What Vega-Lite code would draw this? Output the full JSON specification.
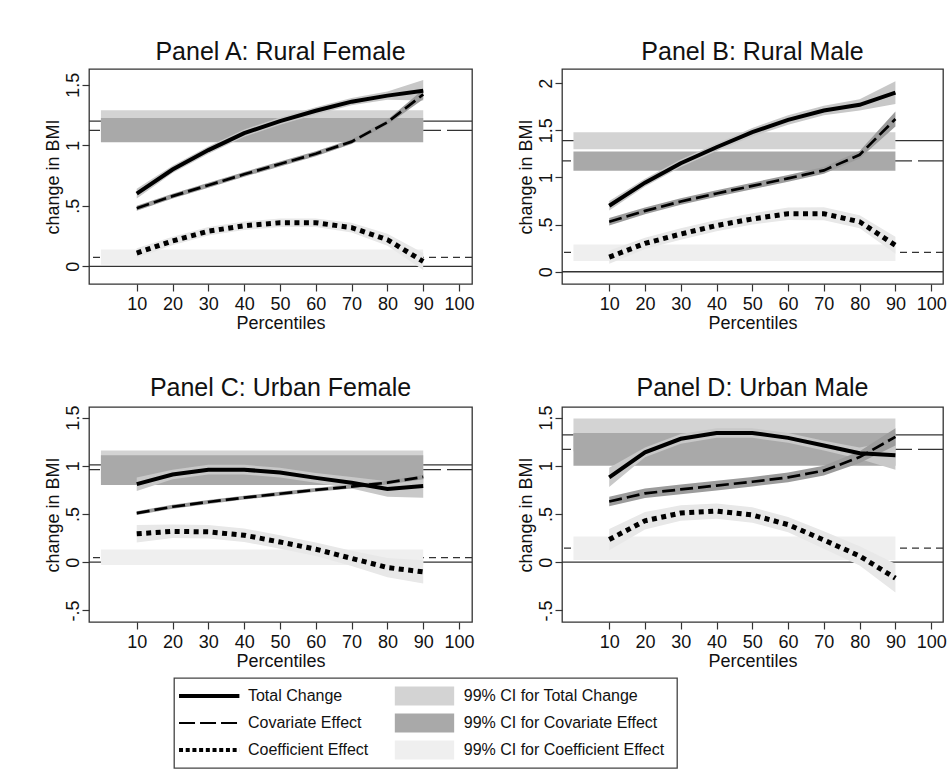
{
"$schema": "https://vega.github.io/schema/vega-lite/v6.json",
"padding": {"left": 43, "top": 38, "right": 0, "bottom": 0},
"background": "white",
"datasets": {
"means": [
{"panel":"A","measure":"Total Change","mean":1.20,"lo":1.11,"hi":1.29},
{"panel":"A","measure":"Covariate Effect","mean":1.123,"lo":1.025,"hi":1.225},
{"panel":"A","measure":"Coefficient Effect","mean":0.074,"lo":0.014,"hi":0.138},
{"panel":"B","measure":"Total Change","mean":1.39,"lo":1.30,"hi":1.48},
{"panel":"B","measure":"Covariate Effect","mean":1.175,"lo":1.07,"hi":1.275},
{"panel":"B","measure":"Coefficient Effect","mean":0.205,"lo":0.113,"hi":0.29},
{"panel":"C","measure":"Total Change","mean":1.01,"lo":0.86,"hi":1.16},
{"panel":"C","measure":"Covariate Effect","mean":0.96,"lo":0.80,"hi":1.11},
{"panel":"C","measure":"Coefficient Effect","mean":0.047,"lo":-0.03,"hi":0.133},
{"panel":"D","measure":"Total Change","mean":1.32,"lo":1.15,"hi":1.49},
{"panel":"D","measure":"Covariate Effect","mean":1.17,"lo":1.00,"hi":1.34},
{"panel":"D","measure":"Coefficient Effect","mean":0.146,"lo":0.024,"hi":0.267}
],
"curves": [
{"panel":"A","effect":"Total Change","pct":10,"est":0.60,"lo":0.56,"hi":0.64},
{"panel":"A","effect":"Total Change","pct":20,"est":0.80,"lo":0.77,"hi":0.83},
{"panel":"A","effect":"Total Change","pct":30,"est":0.96,"lo":0.93,"hi":0.99},
{"panel":"A","effect":"Total Change","pct":40,"est":1.10,"lo":1.07,"hi":1.13},
{"panel":"A","effect":"Total Change","pct":50,"est":1.20,"lo":1.17,"hi":1.23},
{"panel":"A","effect":"Total Change","pct":60,"est":1.285,"lo":1.255,"hi":1.315},
{"panel":"A","effect":"Total Change","pct":70,"est":1.36,"lo":1.33,"hi":1.39},
{"panel":"A","effect":"Total Change","pct":80,"est":1.41,"lo":1.375,"hi":1.445},
{"panel":"A","effect":"Total Change","pct":90,"est":1.45,"lo":1.37,"hi":1.54},
{"panel":"A","effect":"Covariate Effect","pct":10,"est":0.48,"lo":0.46,"hi":0.50},
{"panel":"A","effect":"Covariate Effect","pct":20,"est":0.58,"lo":0.56,"hi":0.60},
{"panel":"A","effect":"Covariate Effect","pct":30,"est":0.67,"lo":0.65,"hi":0.69},
{"panel":"A","effect":"Covariate Effect","pct":40,"est":0.76,"lo":0.74,"hi":0.78},
{"panel":"A","effect":"Covariate Effect","pct":50,"est":0.845,"lo":0.825,"hi":0.865},
{"panel":"A","effect":"Covariate Effect","pct":60,"est":0.93,"lo":0.91,"hi":0.95},
{"panel":"A","effect":"Covariate Effect","pct":70,"est":1.03,"lo":1.01,"hi":1.05},
{"panel":"A","effect":"Covariate Effect","pct":80,"est":1.19,"lo":1.17,"hi":1.21},
{"panel":"A","effect":"Covariate Effect","pct":90,"est":1.42,"lo":1.38,"hi":1.46},
{"panel":"A","effect":"Coefficient Effect","pct":10,"est":0.11,"lo":0.07,"hi":0.15},
{"panel":"A","effect":"Coefficient Effect","pct":20,"est":0.21,"lo":0.175,"hi":0.245},
{"panel":"A","effect":"Coefficient Effect","pct":30,"est":0.29,"lo":0.255,"hi":0.325},
{"panel":"A","effect":"Coefficient Effect","pct":40,"est":0.335,"lo":0.30,"hi":0.37},
{"panel":"A","effect":"Coefficient Effect","pct":50,"est":0.36,"lo":0.325,"hi":0.395},
{"panel":"A","effect":"Coefficient Effect","pct":60,"est":0.36,"lo":0.325,"hi":0.395},
{"panel":"A","effect":"Coefficient Effect","pct":70,"est":0.32,"lo":0.28,"hi":0.36},
{"panel":"A","effect":"Coefficient Effect","pct":80,"est":0.22,"lo":0.17,"hi":0.27},
{"panel":"A","effect":"Coefficient Effect","pct":90,"est":0.04,"lo":-0.03,"hi":0.11},
{"panel":"B","effect":"Total Change","pct":10,"est":0.70,"lo":0.65,"hi":0.75},
{"panel":"B","effect":"Total Change","pct":20,"est":0.945,"lo":0.905,"hi":0.985},
{"panel":"B","effect":"Total Change","pct":30,"est":1.15,"lo":1.11,"hi":1.19},
{"panel":"B","effect":"Total Change","pct":40,"est":1.32,"lo":1.28,"hi":1.36},
{"panel":"B","effect":"Total Change","pct":50,"est":1.48,"lo":1.435,"hi":1.525},
{"panel":"B","effect":"Total Change","pct":60,"est":1.61,"lo":1.56,"hi":1.66},
{"panel":"B","effect":"Total Change","pct":70,"est":1.71,"lo":1.66,"hi":1.76},
{"panel":"B","effect":"Total Change","pct":80,"est":1.77,"lo":1.71,"hi":1.83},
{"panel":"B","effect":"Total Change","pct":90,"est":1.90,"lo":1.78,"hi":2.02},
{"panel":"B","effect":"Covariate Effect","pct":10,"est":0.53,"lo":0.49,"hi":0.57},
{"panel":"B","effect":"Covariate Effect","pct":20,"est":0.645,"lo":0.61,"hi":0.68},
{"panel":"B","effect":"Covariate Effect","pct":30,"est":0.745,"lo":0.71,"hi":0.78},
{"panel":"B","effect":"Covariate Effect","pct":40,"est":0.83,"lo":0.795,"hi":0.865},
{"panel":"B","effect":"Covariate Effect","pct":50,"est":0.91,"lo":0.875,"hi":0.945},
{"panel":"B","effect":"Covariate Effect","pct":60,"est":0.99,"lo":0.955,"hi":1.025},
{"panel":"B","effect":"Covariate Effect","pct":70,"est":1.075,"lo":1.04,"hi":1.11},
{"panel":"B","effect":"Covariate Effect","pct":80,"est":1.24,"lo":1.20,"hi":1.28},
{"panel":"B","effect":"Covariate Effect","pct":90,"est":1.62,"lo":1.54,"hi":1.70},
{"panel":"B","effect":"Coefficient Effect","pct":10,"est":0.155,"lo":0.085,"hi":0.225},
{"panel":"B","effect":"Coefficient Effect","pct":20,"est":0.30,"lo":0.24,"hi":0.36},
{"panel":"B","effect":"Coefficient Effect","pct":30,"est":0.40,"lo":0.34,"hi":0.46},
{"panel":"B","effect":"Coefficient Effect","pct":40,"est":0.49,"lo":0.43,"hi":0.55},
{"panel":"B","effect":"Coefficient Effect","pct":50,"est":0.56,"lo":0.50,"hi":0.62},
{"panel":"B","effect":"Coefficient Effect","pct":60,"est":0.615,"lo":0.55,"hi":0.68},
{"panel":"B","effect":"Coefficient Effect","pct":70,"est":0.615,"lo":0.545,"hi":0.685},
{"panel":"B","effect":"Coefficient Effect","pct":80,"est":0.53,"lo":0.46,"hi":0.60},
{"panel":"B","effect":"Coefficient Effect","pct":90,"est":0.28,"lo":0.19,"hi":0.37},
{"panel":"C","effect":"Total Change","pct":10,"est":0.81,"lo":0.74,"hi":0.88},
{"panel":"C","effect":"Total Change","pct":20,"est":0.91,"lo":0.86,"hi":0.96},
{"panel":"C","effect":"Total Change","pct":30,"est":0.96,"lo":0.91,"hi":1.01},
{"panel":"C","effect":"Total Change","pct":40,"est":0.96,"lo":0.91,"hi":1.01},
{"panel":"C","effect":"Total Change","pct":50,"est":0.93,"lo":0.88,"hi":0.98},
{"panel":"C","effect":"Total Change","pct":60,"est":0.875,"lo":0.825,"hi":0.925},
{"panel":"C","effect":"Total Change","pct":70,"est":0.825,"lo":0.765,"hi":0.885},
{"panel":"C","effect":"Total Change","pct":80,"est":0.76,"lo":0.68,"hi":0.84},
{"panel":"C","effect":"Total Change","pct":90,"est":0.79,"lo":0.67,"hi":0.91},
{"panel":"C","effect":"Covariate Effect","pct":10,"est":0.51,"lo":0.49,"hi":0.53},
{"panel":"C","effect":"Covariate Effect","pct":20,"est":0.575,"lo":0.555,"hi":0.595},
{"panel":"C","effect":"Covariate Effect","pct":30,"est":0.625,"lo":0.605,"hi":0.645},
{"panel":"C","effect":"Covariate Effect","pct":40,"est":0.67,"lo":0.65,"hi":0.69},
{"panel":"C","effect":"Covariate Effect","pct":50,"est":0.71,"lo":0.69,"hi":0.73},
{"panel":"C","effect":"Covariate Effect","pct":60,"est":0.75,"lo":0.73,"hi":0.77},
{"panel":"C","effect":"Covariate Effect","pct":70,"est":0.785,"lo":0.765,"hi":0.805},
{"panel":"C","effect":"Covariate Effect","pct":80,"est":0.825,"lo":0.805,"hi":0.845},
{"panel":"C","effect":"Covariate Effect","pct":90,"est":0.885,"lo":0.86,"hi":0.91},
{"panel":"C","effect":"Coefficient Effect","pct":10,"est":0.295,"lo":0.205,"hi":0.385},
{"panel":"C","effect":"Coefficient Effect","pct":20,"est":0.32,"lo":0.25,"hi":0.39},
{"panel":"C","effect":"Coefficient Effect","pct":30,"est":0.315,"lo":0.245,"hi":0.385},
{"panel":"C","effect":"Coefficient Effect","pct":40,"est":0.28,"lo":0.21,"hi":0.35},
{"panel":"C","effect":"Coefficient Effect","pct":50,"est":0.21,"lo":0.14,"hi":0.28},
{"panel":"C","effect":"Coefficient Effect","pct":60,"est":0.135,"lo":0.065,"hi":0.205},
{"panel":"C","effect":"Coefficient Effect","pct":70,"est":0.04,"lo":-0.04,"hi":0.12},
{"panel":"C","effect":"Coefficient Effect","pct":80,"est":-0.055,"lo":-0.155,"hi":0.045},
{"panel":"C","effect":"Coefficient Effect","pct":90,"est":-0.10,"lo":-0.22,"hi":0.02},
{"panel":"D","effect":"Total Change","pct":10,"est":0.88,"lo":0.78,"hi":0.98},
{"panel":"D","effect":"Total Change","pct":20,"est":1.14,"lo":1.09,"hi":1.19},
{"panel":"D","effect":"Total Change","pct":30,"est":1.28,"lo":1.23,"hi":1.33},
{"panel":"D","effect":"Total Change","pct":40,"est":1.34,"lo":1.29,"hi":1.39},
{"panel":"D","effect":"Total Change","pct":50,"est":1.34,"lo":1.29,"hi":1.39},
{"panel":"D","effect":"Total Change","pct":60,"est":1.29,"lo":1.24,"hi":1.34},
{"panel":"D","effect":"Total Change","pct":70,"est":1.21,"lo":1.16,"hi":1.26},
{"panel":"D","effect":"Total Change","pct":80,"est":1.13,"lo":1.07,"hi":1.19},
{"panel":"D","effect":"Total Change","pct":90,"est":1.11,"lo":0.96,"hi":1.26},
{"panel":"D","effect":"Covariate Effect","pct":10,"est":0.63,"lo":0.58,"hi":0.68},
{"panel":"D","effect":"Covariate Effect","pct":20,"est":0.715,"lo":0.665,"hi":0.765},
{"panel":"D","effect":"Covariate Effect","pct":30,"est":0.755,"lo":0.705,"hi":0.805},
{"panel":"D","effect":"Covariate Effect","pct":40,"est":0.795,"lo":0.745,"hi":0.845},
{"panel":"D","effect":"Covariate Effect","pct":50,"est":0.835,"lo":0.785,"hi":0.885},
{"panel":"D","effect":"Covariate Effect","pct":60,"est":0.88,"lo":0.83,"hi":0.93},
{"panel":"D","effect":"Covariate Effect","pct":70,"est":0.95,"lo":0.90,"hi":1.00},
{"panel":"D","effect":"Covariate Effect","pct":80,"est":1.09,"lo":1.03,"hi":1.15},
{"panel":"D","effect":"Covariate Effect","pct":90,"est":1.30,"lo":1.21,"hi":1.39},
{"panel":"D","effect":"Coefficient Effect","pct":10,"est":0.235,"lo":0.125,"hi":0.345},
{"panel":"D","effect":"Coefficient Effect","pct":20,"est":0.43,"lo":0.34,"hi":0.52},
{"panel":"D","effect":"Coefficient Effect","pct":30,"est":0.51,"lo":0.43,"hi":0.59},
{"panel":"D","effect":"Coefficient Effect","pct":40,"est":0.53,"lo":0.45,"hi":0.61},
{"panel":"D","effect":"Coefficient Effect","pct":50,"est":0.49,"lo":0.41,"hi":0.57},
{"panel":"D","effect":"Coefficient Effect","pct":60,"est":0.39,"lo":0.31,"hi":0.47},
{"panel":"D","effect":"Coefficient Effect","pct":70,"est":0.23,"lo":0.14,"hi":0.32},
{"panel":"D","effect":"Coefficient Effect","pct":80,"est":0.065,"lo":-0.035,"hi":0.165},
{"panel":"D","effect":"Coefficient Effect","pct":90,"est":-0.165,"lo":-0.315,"hi":-0.015}
],
"legend": [
{"row":1,"item":"Total Change","measure":"Total Change","ci":"99% CI for Total Change"},
{"row":2,"item":"Covariate Effect","measure":"Covariate Effect","ci":"99% CI for Covariate Effect"},
{"row":3,"item":"Coefficient Effect","measure":"Coefficient Effect","ci":"99% CI for Coefficient Effect"}
]
},
"vconcat": [
{"spacing": 41, "vconcat": [
{"spacing": 41, "hconcat": [
{"width": 383, "height": 215, "title": {"text": "Panel A: Rural Female"},
"layer": [
{"data": {"values": [{}]}, "mark": {"type": "rule", "color": "#333333", "strokeWidth": 1.3}, "encoding": {"y": {"datum": 0, "type": "quantitative", "title": "change in BMI", "scale": {"domain": [-0.146, 1.63], "nice": false, "zero": false}, "axis": {"values": [0, 0.5, 1, 1.5], "labelExpr": "datum.value == 0.5 ? '.5' : datum.value == -0.5 ? '-.5' : format(datum.value, '~g')"}}}},
{"data": {"name": "means"}, "transform": [{"filter": "datum.panel == 'A' && datum.measure == 'Total Change'"}], "mark": {"type": "rule", "color": "#333333", "strokeWidth": 1.3}, "encoding": {"y": {"field": "mean", "type": "quantitative", "title": "change in BMI"}}},
{"data": {"name": "means"}, "transform": [{"filter": "datum.panel == 'A' && datum.measure == 'Covariate Effect'"}], "mark": {"type": "rule", "color": "#333333", "strokeWidth": 1.3, "strokeDash": [25, 6]}, "encoding": {"y": {"field": "mean", "type": "quantitative", "title": "change in BMI"}}},
{"data": {"name": "means"}, "transform": [{"filter": "datum.panel == 'A' && datum.measure == 'Coefficient Effect'"}], "mark": {"type": "rule", "color": "#333333", "strokeWidth": 1.3, "strokeDash": [7, 5]}, "encoding": {"y": {"field": "mean", "type": "quantitative", "title": "change in BMI"}}},
{"data": {"name": "means"}, "transform": [{"filter": "datum.panel == 'A'"}], "mark": {"type": "rect"}, "encoding": {"x": {"datum": 0, "type": "quantitative", "title": "Percentiles", "scale": {"domain": [-3.33, 103.62], "nice": false, "zero": false}, "axis": {"values": [10, 20, 30, 40, 50, 60, 70, 80, 90, 100]}}, "x2": {"datum": 90}, "y": {"field": "lo", "type": "quantitative", "title": "change in BMI"}, "y2": {"field": "hi"}, "color": {"field": "measure", "type": "nominal", "scale": {"domain": ["Total Change", "Covariate Effect", "Coefficient Effect"], "range": ["#d3d3d3", "#a9a9a9", "#efefef"]}, "legend": null}}},
{"data": {"name": "curves"}, "transform": [{"filter": "datum.panel == 'A'"}], "mark": {"type": "area", "opacity": 1}, "encoding": {"x": {"field": "pct", "type": "quantitative", "title": "Percentiles"}, "y": {"field": "lo", "type": "quantitative", "title": "change in BMI"}, "y2": {"field": "hi"}, "fill": {"field": "effect", "type": "nominal", "scale": {"domain": ["Total Change", "Covariate Effect", "Coefficient Effect"], "range": ["#c8c8c8", "#9c9c9c", "#e8e8e8"]}, "legend": null}}},
{"data": {"name": "curves"}, "transform": [{"filter": "datum.panel == 'A' && datum.effect == 'Covariate Effect'"}], "mark": {"type": "line", "color": "#000000", "strokeWidth": 2.7, "strokeDash": [13, 5]}, "encoding": {"x": {"field": "pct", "type": "quantitative", "title": "Percentiles"}, "y": {"field": "est", "type": "quantitative", "title": "change in BMI"}}},
{"data": {"name": "curves"}, "transform": [{"filter": "datum.panel == 'A' && datum.effect == 'Coefficient Effect'"}], "mark": {"type": "line", "color": "#000000", "strokeWidth": 5, "strokeDash": [5, 4.5]}, "encoding": {"x": {"field": "pct", "type": "quantitative", "title": "Percentiles"}, "y": {"field": "est", "type": "quantitative", "title": "change in BMI"}}},
{"data": {"name": "curves"}, "transform": [{"filter": "datum.panel == 'A' && datum.effect == 'Total Change'"}], "mark": {"type": "line", "color": "#000000", "strokeWidth": 4}, "encoding": {"x": {"field": "pct", "type": "quantitative", "title": "Percentiles"}, "y": {"field": "est", "type": "quantitative", "title": "change in BMI"}}}
]},
{"width": 381, "height": 215, "title": {"text": "Panel B: Rural Male"},
"layer": [
{"data": {"values": [{}]}, "mark": {"type": "rule", "color": "#333333", "strokeWidth": 1.3}, "encoding": {"y": {"datum": 0, "type": "quantitative", "title": "change in BMI", "scale": {"domain": [-0.13, 2.15], "nice": false, "zero": false}, "axis": {"values": [0, 0.5, 1, 1.5, 2], "labelExpr": "datum.value == 0.5 ? '.5' : datum.value == -0.5 ? '-.5' : format(datum.value, '~g')"}}}},
{"data": {"name": "means"}, "transform": [{"filter": "datum.panel == 'B' && datum.measure == 'Total Change'"}], "mark": {"type": "rule", "color": "#333333", "strokeWidth": 1.3}, "encoding": {"y": {"field": "mean", "type": "quantitative", "title": "change in BMI"}}},
{"data": {"name": "means"}, "transform": [{"filter": "datum.panel == 'B' && datum.measure == 'Covariate Effect'"}], "mark": {"type": "rule", "color": "#333333", "strokeWidth": 1.3, "strokeDash": [25, 6]}, "encoding": {"y": {"field": "mean", "type": "quantitative", "title": "change in BMI"}}},
{"data": {"name": "means"}, "transform": [{"filter": "datum.panel == 'B' && datum.measure == 'Coefficient Effect'"}], "mark": {"type": "rule", "color": "#333333", "strokeWidth": 1.3, "strokeDash": [7, 5]}, "encoding": {"y": {"field": "mean", "type": "quantitative", "title": "change in BMI"}}},
{"data": {"name": "means"}, "transform": [{"filter": "datum.panel == 'B'"}], "mark": {"type": "rect"}, "encoding": {"x": {"datum": 0, "type": "quantitative", "title": "Percentiles", "scale": {"domain": [-3.2, 103.3], "nice": false, "zero": false}, "axis": {"values": [10, 20, 30, 40, 50, 60, 70, 80, 90, 100]}}, "x2": {"datum": 90}, "y": {"field": "lo", "type": "quantitative", "title": "change in BMI"}, "y2": {"field": "hi"}, "color": {"field": "measure", "type": "nominal", "scale": {"domain": ["Total Change", "Covariate Effect", "Coefficient Effect"], "range": ["#d3d3d3", "#a9a9a9", "#efefef"]}, "legend": null}}},
{"data": {"name": "curves"}, "transform": [{"filter": "datum.panel == 'B'"}], "mark": {"type": "area", "opacity": 1}, "encoding": {"x": {"field": "pct", "type": "quantitative", "title": "Percentiles"}, "y": {"field": "lo", "type": "quantitative", "title": "change in BMI"}, "y2": {"field": "hi"}, "fill": {"field": "effect", "type": "nominal", "scale": {"domain": ["Total Change", "Covariate Effect", "Coefficient Effect"], "range": ["#c8c8c8", "#9c9c9c", "#e8e8e8"]}, "legend": null}}},
{"data": {"name": "curves"}, "transform": [{"filter": "datum.panel == 'B' && datum.effect == 'Covariate Effect'"}], "mark": {"type": "line", "color": "#000000", "strokeWidth": 2.7, "strokeDash": [13, 5]}, "encoding": {"x": {"field": "pct", "type": "quantitative", "title": "Percentiles"}, "y": {"field": "est", "type": "quantitative", "title": "change in BMI"}}},
{"data": {"name": "curves"}, "transform": [{"filter": "datum.panel == 'B' && datum.effect == 'Coefficient Effect'"}], "mark": {"type": "line", "color": "#000000", "strokeWidth": 5, "strokeDash": [5, 4.5]}, "encoding": {"x": {"field": "pct", "type": "quantitative", "title": "Percentiles"}, "y": {"field": "est", "type": "quantitative", "title": "change in BMI"}}},
{"data": {"name": "curves"}, "transform": [{"filter": "datum.panel == 'B' && datum.effect == 'Total Change'"}], "mark": {"type": "line", "color": "#000000", "strokeWidth": 4}, "encoding": {"x": {"field": "pct", "type": "quantitative", "title": "Percentiles"}, "y": {"field": "est", "type": "quantitative", "title": "change in BMI"}}}
]}
]},
{"spacing": 41, "hconcat": [
{"width": 383, "height": 215, "title": {"text": "Panel C: Urban Female"},
"layer": [
{"data": {"values": [{}]}, "mark": {"type": "rule", "color": "#333333", "strokeWidth": 1.3}, "encoding": {"y": {"datum": 0, "type": "quantitative", "title": "change in BMI", "scale": {"domain": [-0.62, 1.61], "nice": false, "zero": false}, "axis": {"values": [-0.5, 0, 0.5, 1, 1.5], "labelExpr": "datum.value == 0.5 ? '.5' : datum.value == -0.5 ? '-.5' : format(datum.value, '~g')"}}}},
{"data": {"name": "means"}, "transform": [{"filter": "datum.panel == 'C' && datum.measure == 'Total Change'"}], "mark": {"type": "rule", "color": "#333333", "strokeWidth": 1.3}, "encoding": {"y": {"field": "mean", "type": "quantitative", "title": "change in BMI"}}},
{"data": {"name": "means"}, "transform": [{"filter": "datum.panel == 'C' && datum.measure == 'Covariate Effect'"}], "mark": {"type": "rule", "color": "#333333", "strokeWidth": 1.3, "strokeDash": [25, 6]}, "encoding": {"y": {"field": "mean", "type": "quantitative", "title": "change in BMI"}}},
{"data": {"name": "means"}, "transform": [{"filter": "datum.panel == 'C' && datum.measure == 'Coefficient Effect'"}], "mark": {"type": "rule", "color": "#333333", "strokeWidth": 1.3, "strokeDash": [7, 5]}, "encoding": {"y": {"field": "mean", "type": "quantitative", "title": "change in BMI"}}},
{"data": {"name": "means"}, "transform": [{"filter": "datum.panel == 'C'"}], "mark": {"type": "rect"}, "encoding": {"x": {"datum": 0, "type": "quantitative", "title": "Percentiles", "scale": {"domain": [-3.33, 103.62], "nice": false, "zero": false}, "axis": {"values": [10, 20, 30, 40, 50, 60, 70, 80, 90, 100]}}, "x2": {"datum": 90}, "y": {"field": "lo", "type": "quantitative", "title": "change in BMI"}, "y2": {"field": "hi"}, "color": {"field": "measure", "type": "nominal", "scale": {"domain": ["Total Change", "Covariate Effect", "Coefficient Effect"], "range": ["#d3d3d3", "#a9a9a9", "#efefef"]}, "legend": null}}},
{"data": {"name": "curves"}, "transform": [{"filter": "datum.panel == 'C'"}], "mark": {"type": "area", "opacity": 1}, "encoding": {"x": {"field": "pct", "type": "quantitative", "title": "Percentiles"}, "y": {"field": "lo", "type": "quantitative", "title": "change in BMI"}, "y2": {"field": "hi"}, "fill": {"field": "effect", "type": "nominal", "scale": {"domain": ["Total Change", "Covariate Effect", "Coefficient Effect"], "range": ["#c8c8c8", "#9c9c9c", "#e8e8e8"]}, "legend": null}}},
{"data": {"name": "curves"}, "transform": [{"filter": "datum.panel == 'C' && datum.effect == 'Covariate Effect'"}], "mark": {"type": "line", "color": "#000000", "strokeWidth": 2.7, "strokeDash": [13, 5]}, "encoding": {"x": {"field": "pct", "type": "quantitative", "title": "Percentiles"}, "y": {"field": "est", "type": "quantitative", "title": "change in BMI"}}},
{"data": {"name": "curves"}, "transform": [{"filter": "datum.panel == 'C' && datum.effect == 'Coefficient Effect'"}], "mark": {"type": "line", "color": "#000000", "strokeWidth": 5, "strokeDash": [5, 4.5]}, "encoding": {"x": {"field": "pct", "type": "quantitative", "title": "Percentiles"}, "y": {"field": "est", "type": "quantitative", "title": "change in BMI"}}},
{"data": {"name": "curves"}, "transform": [{"filter": "datum.panel == 'C' && datum.effect == 'Total Change'"}], "mark": {"type": "line", "color": "#000000", "strokeWidth": 4}, "encoding": {"x": {"field": "pct", "type": "quantitative", "title": "Percentiles"}, "y": {"field": "est", "type": "quantitative", "title": "change in BMI"}}}
]},
{"width": 381, "height": 215, "title": {"text": "Panel D: Urban Male"},
"layer": [
{"data": {"values": [{}]}, "mark": {"type": "rule", "color": "#333333", "strokeWidth": 1.3}, "encoding": {"y": {"datum": 0, "type": "quantitative", "title": "change in BMI", "scale": {"domain": [-0.62, 1.61], "nice": false, "zero": false}, "axis": {"values": [-0.5, 0, 0.5, 1, 1.5], "labelExpr": "datum.value == 0.5 ? '.5' : datum.value == -0.5 ? '-.5' : format(datum.value, '~g')"}}}},
{"data": {"name": "means"}, "transform": [{"filter": "datum.panel == 'D' && datum.measure == 'Total Change'"}], "mark": {"type": "rule", "color": "#333333", "strokeWidth": 1.3}, "encoding": {"y": {"field": "mean", "type": "quantitative", "title": "change in BMI"}}},
{"data": {"name": "means"}, "transform": [{"filter": "datum.panel == 'D' && datum.measure == 'Covariate Effect'"}], "mark": {"type": "rule", "color": "#333333", "strokeWidth": 1.3, "strokeDash": [25, 6]}, "encoding": {"y": {"field": "mean", "type": "quantitative", "title": "change in BMI"}}},
{"data": {"name": "means"}, "transform": [{"filter": "datum.panel == 'D' && datum.measure == 'Coefficient Effect'"}], "mark": {"type": "rule", "color": "#333333", "strokeWidth": 1.3, "strokeDash": [7, 5]}, "encoding": {"y": {"field": "mean", "type": "quantitative", "title": "change in BMI"}}},
{"data": {"name": "means"}, "transform": [{"filter": "datum.panel == 'D'"}], "mark": {"type": "rect"}, "encoding": {"x": {"datum": 0, "type": "quantitative", "title": "Percentiles", "scale": {"domain": [-3.2, 103.3], "nice": false, "zero": false}, "axis": {"values": [10, 20, 30, 40, 50, 60, 70, 80, 90, 100]}}, "x2": {"datum": 90}, "y": {"field": "lo", "type": "quantitative", "title": "change in BMI"}, "y2": {"field": "hi"}, "color": {"field": "measure", "type": "nominal", "scale": {"domain": ["Total Change", "Covariate Effect", "Coefficient Effect"], "range": ["#d3d3d3", "#a9a9a9", "#efefef"]}, "legend": null}}},
{"data": {"name": "curves"}, "transform": [{"filter": "datum.panel == 'D'"}], "mark": {"type": "area", "opacity": 1}, "encoding": {"x": {"field": "pct", "type": "quantitative", "title": "Percentiles"}, "y": {"field": "lo", "type": "quantitative", "title": "change in BMI"}, "y2": {"field": "hi"}, "fill": {"field": "effect", "type": "nominal", "scale": {"domain": ["Total Change", "Covariate Effect", "Coefficient Effect"], "range": ["#c8c8c8", "#9c9c9c", "#e8e8e8"]}, "legend": null}}},
{"data": {"name": "curves"}, "transform": [{"filter": "datum.panel == 'D' && datum.effect == 'Covariate Effect'"}], "mark": {"type": "line", "color": "#000000", "strokeWidth": 2.7, "strokeDash": [13, 5]}, "encoding": {"x": {"field": "pct", "type": "quantitative", "title": "Percentiles"}, "y": {"field": "est", "type": "quantitative", "title": "change in BMI"}}},
{"data": {"name": "curves"}, "transform": [{"filter": "datum.panel == 'D' && datum.effect == 'Coefficient Effect'"}], "mark": {"type": "line", "color": "#000000", "strokeWidth": 5, "strokeDash": [5, 4.5]}, "encoding": {"x": {"field": "pct", "type": "quantitative", "title": "Percentiles"}, "y": {"field": "est", "type": "quantitative", "title": "change in BMI"}}},
{"data": {"name": "curves"}, "transform": [{"filter": "datum.panel == 'D' && datum.effect == 'Total Change'"}], "mark": {"type": "line", "color": "#000000", "strokeWidth": 4}, "encoding": {"x": {"field": "pct", "type": "quantitative", "title": "Percentiles"}, "y": {"field": "est", "type": "quantitative", "title": "change in BMI"}}}
]}
]}
]},
{"spacing": 20, "hconcat": [
{"width": 64, "height": 90, "view": {"stroke": null}, "data": {"values": []}, "mark": "point"},
{"width": 503, "height": 90, "view": {"stroke": "#444444", "strokeWidth": 1.3},
"data": {"name": "legend"},
"layer": [
{"mark": {"type": "rect"}, "encoding": {"x": {"datum": 43.9, "type": "quantitative", "scale": {"domain": [0, 100], "nice": false, "zero": false}, "axis": null}, "x2": {"datum": 55.7}, "y": {"field": "row", "type": "ordinal", "scale": {"type": "band", "paddingInner": 0.3, "paddingOuter": 0.3167}, "axis": null}, "color": {"field": "measure", "type": "nominal", "scale": {"domain": ["Total Change", "Covariate Effect", "Coefficient Effect"], "range": ["#d3d3d3", "#a9a9a9", "#efefef"]}, "legend": null}}},
{"transform": [{"filter": "datum.row == 1"}], "mark": {"type": "rule", "color": "#000000", "strokeWidth": 4}, "encoding": {"x": {"datum": 1, "type": "quantitative"}, "x2": {"datum": 13}, "y": {"field": "row", "type": "ordinal"}}},
{"transform": [{"filter": "datum.row == 2"}], "mark": {"type": "rule", "color": "#000000", "strokeWidth": 2.2, "strokeDash": [16, 5]}, "encoding": {"x": {"datum": 1, "type": "quantitative"}, "x2": {"datum": 13}, "y": {"field": "row", "type": "ordinal"}}},
{"transform": [{"filter": "datum.row == 3"}], "mark": {"type": "rule", "color": "#000000", "strokeWidth": 4, "strokeDash": [4, 2.7]}, "encoding": {"x": {"datum": 1, "type": "quantitative"}, "x2": {"datum": 13}, "y": {"field": "row", "type": "ordinal"}}},
{"mark": {"type": "text", "align": "left", "baseline": "middle", "fontSize": 16, "color": "#111111"}, "encoding": {"x": {"datum": 14.7, "type": "quantitative"}, "y": {"field": "row", "type": "ordinal"}, "text": {"field": "item"}}},
{"mark": {"type": "text", "align": "left", "baseline": "middle", "fontSize": 16, "color": "#111111"}, "encoding": {"x": {"datum": 57.6, "type": "quantitative"}, "y": {"field": "row", "type": "ordinal"}, "text": {"field": "ci"}}}
]}
]}
],
"spacing": 6,
"config": {
"font": "Liberation Sans",
"view": {"stroke": "#333333", "strokeWidth": 1.3},
"axis": {"grid": false, "domain": false, "ticks": true, "tickColor": "#333333", "tickSize": 7, "tickWidth": 1.2, "labelFontSize": 18, "titleFontSize": 18, "labelColor": "#111111", "titleColor": "#111111", "titleFontWeight": "normal", "labelFont": "Liberation Sans", "titleFont": "Liberation Sans", "labelFlush": false, "labelOverlap": false},
"axisX": {"labelPadding": 4, "titlePadding": 1},
"axisY": {"labelAngle": -90, "labelAlign": "center", "labelBaseline": "alphabetic", "labelPadding": 4, "titlePadding": 2},
"title": {"fontSize": 25, "fontWeight": "normal", "color": "#111111", "baseline": "alphabetic", "offset": 4.5, "anchor": "middle", "font": "Liberation Sans"}
}
}
